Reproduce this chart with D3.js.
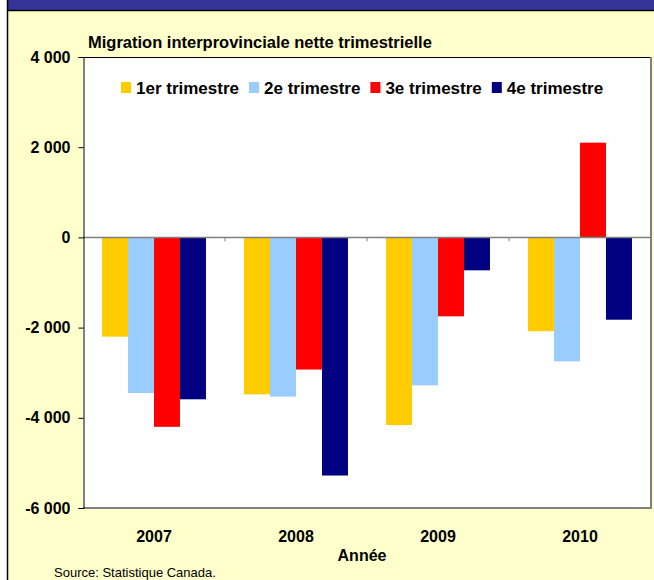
<!DOCTYPE html>
<html>
<head>
<meta charset="utf-8">
<script src="https://cdn.jsdelivr.net/npm/d3@7"></script>
<style>
  body { margin: 0; background: #fff; }
  svg { display: block; font-family: "Liberation Sans", Arial, sans-serif; }
</style>
</head>
<body>
<div id="chart"></div>
<script>

// data
var years = ["2007", "2008", "2009", "2010"];
var quarters = ["1er trimestre", "2e trimestre", "3e trimestre", "4e trimestre"];
var q1 = [-2200, -3480, -4160, -2080];
var q2 = [-3450, -3530, -3280, -2750];
var q3 = [-4200, -2930, -1750, 2100];
var q4 = [-3590, -5280, -730, -1825];
var yTicks = [4000, 2000, 0, -2000, -4000, -6000];
var colors = ["#ffcc00", "#99ccff", "#ff0000", "#000080"];

var series = [q1, q2, q3, q4];

// sizes
var width = 654,
	height = 580,
	plot = {left: 83, right: 651, top: 57, bottom: 508};

var svg = d3.select("#chart").append("svg")
	.attr("width", width)
	.attr("height", height);

// frame: yellow panel, dark blue band on top, black edges
svg.append("rect")
	.attr("x", 8).attr("y", 11)
	.attr("width", width - 8).attr("height", height - 11)
	.style("fill", "#ffffcc");

svg.append("rect")
	.attr("x", 8).attr("y", 0)
	.attr("width", width - 8).attr("height", 10)
	.style("fill", "#333399");

svg.append("line")
	.attr("x1", 7.5).attr("x2", 7.5)
	.attr("y1", 0).attr("y2", height)
	.style("stroke", "#000").style("stroke-width", 1.5);

svg.append("line")
	.attr("x1", 7).attr("x2", width)
	.attr("y1", 10.5).attr("y2", 10.5)
	.style("stroke", "#000").style("stroke-width", 1.5);

// plot area
svg.append("rect")
	.attr("x", plot.left).attr("y", plot.top)
	.attr("width", plot.right - plot.left).attr("height", plot.bottom - plot.top)
	.style("fill", "#fff");

// scales
var x0 = d3.scaleBand()
	.domain(years)
	.range([plot.left, plot.right])
	.paddingInner(0.268)
	.paddingOuter(0.134);

var x1 = d3.scaleBand()
	.domain(quarters)
	.range([0, x0.bandwidth()]);

var y = d3.scaleLinear()
	.domain([-6000, 4000])
	.range([plot.bottom, plot.top]);

var fmt = function(d){
	return d3.format(",")(d).replace(/,/g, " ").replace("−", "-");
};

// bars
var groups = svg.selectAll(".year")
	.data(years)
	.enter()
	.append("g")
	.attr("class", "year")
	.attr("transform", function(d){
		return "translate(" + x0(d) + ",0)";
	});

groups.selectAll("rect")
	.data(function(d, i){
		return quarters.map(function(q, j){
			return {q: q, value: series[j][i], c: colors[j]};
		});
	})
	.enter()
	.append("rect")
	.attr("x", function(d){ return x1(d.q); })
	.attr("width", x1.bandwidth())
	.attr("y", function(d){ return y(Math.max(0, d.value)); })
	.attr("height", function(d){ return Math.abs(y(d.value) - y(0)); })
	.style("fill", function(d){ return d.c; });

// zero line with category separators
svg.append("line")
	.attr("x1", plot.left).attr("x2", plot.right)
	.attr("y1", y(0)).attr("y2", y(0))
	.style("stroke", "#808080").style("stroke-width", 1.5);

var step = x0.step();
svg.selectAll(".sep")
	.data(years.slice(1))
	.enter()
	.append("line")
	.attr("class", "sep")
	.attr("x1", function(d){ return x0(d) - step * x0.paddingInner() / 2; })
	.attr("x2", function(d){ return x0(d) - step * x0.paddingInner() / 2; })
	.attr("y1", y(0)).attr("y2", y(0) + 4)
	.style("stroke", "#808080").style("stroke-width", 1);

// plot borders
svg.append("line")
	.attr("x1", plot.left).attr("x2", plot.right)
	.attr("y1", plot.top + 0.5).attr("y2", plot.top + 0.5)
	.style("stroke", "#000").style("stroke-width", 1);

svg.append("line")
	.attr("x1", plot.right).attr("x2", plot.right)
	.attr("y1", plot.top).attr("y2", plot.bottom + 1)
	.style("stroke", "#808080").style("stroke-width", 2);

svg.append("line")
	.attr("x1", plot.left).attr("x2", plot.right + 1)
	.attr("y1", plot.bottom).attr("y2", plot.bottom)
	.style("stroke", "#808080").style("stroke-width", 2);

// y axis
var yAxis = svg.append("g")
	.attr("transform", "translate(" + (plot.left + 0.5) + ",0)")
	.call(d3.axisLeft(y).tickValues(yTicks).tickSize(5).tickPadding(8).tickFormat(fmt));

yAxis.select(".domain").style("stroke", "#000");
yAxis.selectAll(".tick line").style("stroke", "#000");
yAxis.selectAll("text")
	.style("font-size", "16px")
	.style("font-weight", "bold")
	.style("fill", "#000")
	.style("font-family", "\"Liberation Sans\", Arial, sans-serif");

// year labels
svg.selectAll(".ylab")
	.data(years)
	.enter()
	.append("text")
	.attr("class", "ylab")
	.attr("x", function(d){ return x0(d) + x0.bandwidth() / 2; })
	.attr("y", 542)
	.attr("text-anchor", "middle")
	.style("font-size", "16px")
	.style("font-weight", "bold")
	.text(function(d){ return d; });

svg.append("text")
	.attr("x", 362).attr("y", 561)
	.attr("text-anchor", "middle")
	.style("font-size", "16px")
	.style("font-weight", "bold")
	.text("Année");

// title
svg.append("text")
	.attr("x", 88).attr("y", 48)
	.style("font-size", "16.5px")
	.style("font-weight", "bold")
	.text("Migration interprovinciale nette trimestrielle");

// legend
var lx = 121;
quarters.forEach(function(q, i){

	svg.append("rect")
		.attr("x", lx).attr("y", 82)
		.attr("width", 10).attr("height", 11)
		.style("fill", colors[i]);

	var t = svg.append("text")
		.attr("x", lx + 15).attr("y", 93.5)
		.style("font-size", "17px")
		.style("font-weight", "bold")
		.text(q);

	lx += 15 + t.node().getComputedTextLength() + 10;
});

// source
svg.append("text")
	.attr("x", 54).attr("y", 576.5)
	.style("font-size", "13px")
	.text("Source: Statistique Canada.");

</script>
</body>
</html>
